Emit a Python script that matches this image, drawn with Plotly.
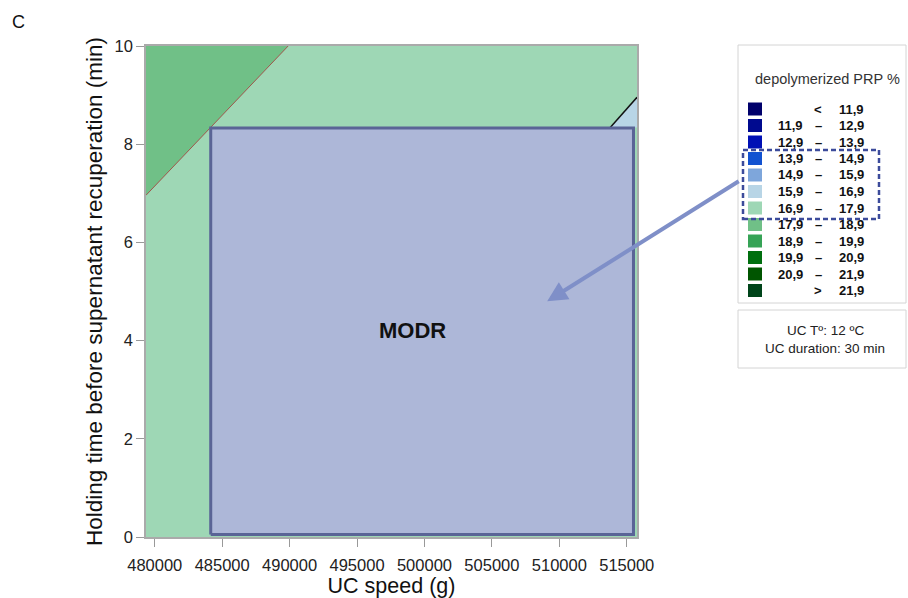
import plotly.graph_objects as go

# ---------------- data ----------------
x_range = [479350, 515760]
y_range = [0, 10]
x_ticks = [480000, 485000, 490000, 495000, 500000, 505000, 510000, 515000]
y_ticks = [0, 2, 4, 6, 8, 10]

# contour boundary 17.9 % (dark green zone, top-left)
b179_x = [479350, 489890]
b179_y = [6.96, 10.0]
# contour boundary 16.9 % (light blue zone, top-right)
b169_x = [513776, 515760]
b169_y = [8.34, 8.955]

# MODR (design space) rectangle
modr_x = [484150, 515500]
modr_y = [0.05, 8.33]
modr_label_xy = [499100, 4.2]
arrow_tip_xy = [509100, 4.8]

legend_lo = ["", "11,9", "12,9", "13,9", "14,9", "15,9", "16,9", "17,9", "18,9", "19,9", "20,9", ""]
legend_sep = ["<", "–", "–", "–", "–", "–", "–", "–", "–", "–", "–", ">"]
legend_hi = ["11,9", "12,9", "13,9", "14,9", "15,9", "16,9", "17,9", "18,9", "19,9", "20,9", "21,9", "21,9"]
legend_colors = ["#00006b", "#000a8f", "#0010b5", "#1252d1", "#7ea6db", "#b8d5e6",
                 "#9ed7b5", "#70c087", "#36a356", "#006f0f", "#005500", "#00441a"]

conditions = ["UC Tº: 12 ºC", "UC duration: 30 min"]

# ---------------- layout geometry ----------------
W, H = 908, 598
L, R, T, B = 146, 637, 46, 537      # plot area in page pixels
PW, PH = R - L, B - T


def px(x):
    return (x - L) / PW


def py(y):
    return (B - y) / PH


FONT = "Arial, Liberation Sans, sans-serif"

fig = go.Figure()

# dark green zone
fig.add_trace(go.Scatter(
    x=[b179_x[0], b179_x[1], x_range[0], b179_x[0]],
    y=[b179_y[0], b179_y[1], y_range[1], b179_y[0]],
    fill="toself", fillcolor=legend_colors[7], mode="lines",
    line=dict(width=0), hoverinfo="skip", showlegend=False))
fig.add_trace(go.Scatter(
    x=b179_x, y=b179_y, mode="lines",
    line=dict(color="#a0564c", width=1), hoverinfo="skip", showlegend=False))

# light blue zone
fig.add_trace(go.Scatter(
    x=[b169_x[0], b169_x[1], b169_x[1], b169_x[0]],
    y=[b169_y[0], b169_y[1], b169_y[0], b169_y[0]],
    fill="toself", fillcolor=legend_colors[5], mode="lines",
    line=dict(width=0), hoverinfo="skip", showlegend=False))
fig.add_trace(go.Scatter(
    x=b169_x, y=b169_y, mode="lines",
    line=dict(color="#111111", width=1.5), hoverinfo="skip", showlegend=False))

# MODR rectangle
fig.add_trace(go.Scatter(
    x=[modr_x[0], modr_x[1], modr_x[1], modr_x[0], modr_x[0]],
    y=[modr_y[0], modr_y[0], modr_y[1], modr_y[1], modr_y[0]],
    fill="toself", fillcolor="#adb7d8", mode="lines",
    line=dict(color="#5a6496", width=3), hoverinfo="skip", showlegend=False))

shapes = []
annotations = []


def note(x, y, text, size, color="#111111", xanchor="center", xref="paper", yref="paper"):
    annotations.append(dict(x=x, y=y, xref=xref, yref=yref, text=text, showarrow=False,
                            xanchor=xanchor, yanchor="middle",
                            font=dict(family=FONT, size=size, color=color)))


note(modr_label_xy[0], modr_label_xy[1], "<b>MODR</b>", 22, xref="x", yref="y")

# arrow from legend to MODR
annotations.append(dict(x=arrow_tip_xy[0], y=arrow_tip_xy[1], xref="x", yref="y",
                        ax=193, ay=-121, axref="pixel", ayref="pixel",
                        text="", showarrow=True, arrowhead=2, arrowsize=1,
                        arrowwidth=4, arrowcolor="#7f8fc8"))

# panel letter
note(px(18), py(22), "C", 18)

# legend box
shapes.append(dict(type="rect", xref="paper", yref="paper",
                   x0=px(738), x1=px(906), y0=py(303), y1=py(45),
                   line=dict(color="#d4d4d4", width=1), fillcolor="rgba(0,0,0,0)"))
note(px(827), py(79), "depolymerized PRP %", 14.5, color="#333333")

row0, dy = 109, 16.5
for i, c in enumerate(legend_colors):
    yc = row0 + i * dy
    shapes.append(dict(type="rect", xref="paper", yref="paper",
                       x0=px(748), x1=px(762), y0=py(yc + 6.5), y1=py(yc - 6.5),
                       line=dict(width=0), fillcolor=c))
    if legend_lo[i]:
        note(px(805), py(yc), "<b>%s</b>" % legend_lo[i], 13, xanchor="right")
    note(px(818), py(yc), "<b>%s</b>" % legend_sep[i], 13, xanchor="center")
    note(px(837), py(yc), "<b>%s</b>" % legend_hi[i], 13, xanchor="left")

# dashed highlight around 13,9 - 17,9
shapes.append(dict(type="rect", xref="paper", yref="paper",
                   x0=px(743), x1=px(879), y0=py(219), y1=py(150),
                   line=dict(color="#3c4b9b", width=2.5, dash="5px,3px"),
                   fillcolor="rgba(0,0,0,0)"))

# conditions box
shapes.append(dict(type="rect", xref="paper", yref="paper",
                   x0=px(738), x1=px(906), y0=py(368), y1=py(310),
                   line=dict(color="#d4d4d4", width=1), fillcolor="rgba(0,0,0,0)"))
for j, t in enumerate(conditions):
    note(px(825), py(330 + j * 18), t, 13.5, color="#222222")

axis_common = dict(showline=True, linecolor="#aaaaaa", linewidth=1.5, mirror=True,
                   ticks="outside", ticklen=8, tickcolor="#999999", showgrid=False,
                   zeroline=False, tickfont=dict(family=FONT, size=16.5, color="#222222"))

fig.update_layout(
    width=W, height=H,
    margin=dict(l=L, r=W - R, t=T, b=H - B, autoexpand=False),
    paper_bgcolor="white", plot_bgcolor=legend_colors[6],
    shapes=shapes, annotations=annotations,
    xaxis=dict(range=x_range, tickvals=x_ticks, tickformat="d", ticklabelstandoff=4,
               title=dict(text="UC speed (g)", font=dict(family=FONT, size=21.5, color="#111111"),
                          standoff=4),
               **axis_common),
    yaxis=dict(range=y_range, tickvals=y_ticks,
               title=dict(text="Holding time before supernatant recuperation (min)",
                          font=dict(family=FONT, size=22.5, color="#111111"), standoff=6),
               **axis_common),
)

# remove the default page margin so the 908x598 figure fills the window exactly
fig.write_html("out.html", config={"displayModeBar": False},
               post_script="document.body.style.margin='0px';")
